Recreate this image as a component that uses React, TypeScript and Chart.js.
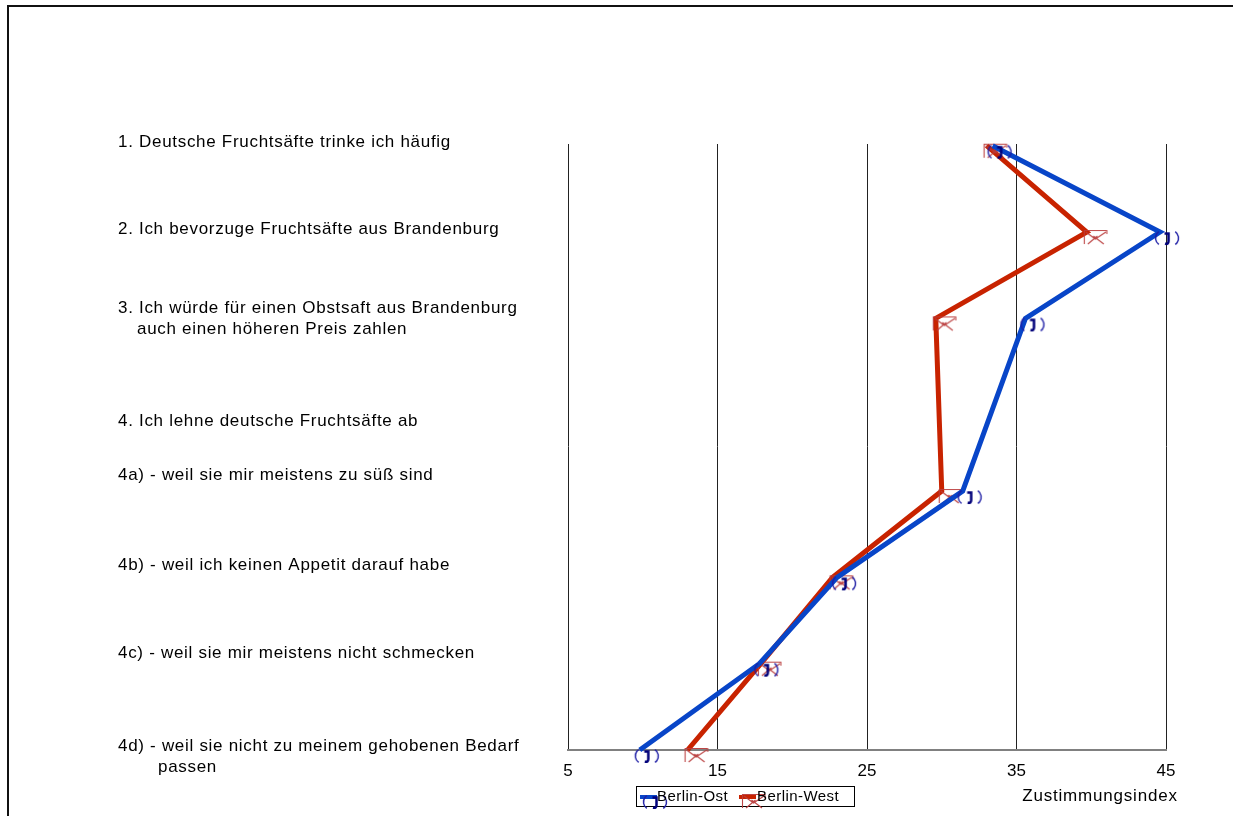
import React, { useEffect, useRef } from "react";
import { Chart, registerables } from "chart.js";

Chart.register(...registerables);

// ---- data ----
const categories: string[][] = [
  ["1. Deutsche Fruchtsäfte trinke ich häufig"],
  ["2. Ich bevorzuge Fruchtsäfte aus Brandenburg"],
  ["3. Ich würde für einen Obstsaft aus Brandenburg", "auch einen höheren Preis zahlen"],
  ["4. Ich lehne deutsche Fruchtsäfte ab"],
  ["4a) - weil sie mir meistens zu süß sind"],
  ["4b) - weil ich keinen Appetit darauf habe"],
  ["4c) - weil sie mir meistens nicht schmecken"],
  ["4d) - weil sie nicht zu meinem gehobenen Bedarf", "passen"],
];
const berlinOst: (number | null)[] = [33.4, 44.6, 35.6, null, 31.4, 23.0, 17.8, 9.8];
const berlinWest: (number | null)[] = [33.0, 39.7, 29.6, null, 30.0, 22.7, 17.9, 13.0];
const seriesNames = ["Berlin-Ost", "Berlin-West"];
const xTicks = [5, 15, 25, 35, 45];
const axisTitle = "Zustimmungsindex";

// ---- layout / style (not data) ----
const FONT = '"Liberation Sans", Arial, Helvetica, sans-serif';
const BLUE = "#0845C8";
const RED = "#C82300";
const labelOffsets = [-3, -3, -10, 17, -16, -12, -10, -4];
const contIndent = [0, 0, 19, 0, 0, 0, 0, 40];

function makeBlueMarker(): HTMLCanvasElement {
  const c = document.createElement("canvas");
  c.width = 60;
  c.height = 60;
  const g = c.getContext("2d")!;
  const vx = 30, vy = 30;
  g.strokeStyle = "rgba(30,30,165,0.95)";
  g.lineWidth = 1.5;
  g.beginPath();
  g.arc(vx + 3.5, vy + 6, 8, Math.PI * 0.7, Math.PI * 1.3);
  g.stroke();
  g.beginPath();
  g.arc(vx + 10.5, vy + 6, 8, -Math.PI * 0.3, Math.PI * 0.3);
  g.stroke();
  g.strokeStyle = "#00007A";
  g.lineWidth = 2.5;
  g.beginPath();
  g.moveTo(vx + 4.5, vy + 1.5);
  g.lineTo(vx + 8.5, vy + 1.5);
  g.lineTo(vx + 8.5, vy + 9);
  g.quadraticCurveTo(vx + 8.5, vy + 12.5, vx + 5, vy + 11.5);
  g.stroke();
  return c;
}

function makeRedMarker(): HTMLCanvasElement {
  const c = document.createElement("canvas");
  c.width = 60;
  c.height = 60;
  const g = c.getContext("2d")!;
  const vx = 30, vy = 30;
  const L = vx - 3, R = vx + 20, T = vy - 2, B = vy + 12;
  const M = (L + R) / 2;
  g.strokeStyle = "rgba(185,60,60,0.95)";
  g.lineWidth = 1.1;
  g.beginPath();
  g.moveTo(L + 0.5, B);
  g.lineTo(L + 0.5, T + 0.5);
  g.lineTo(R, T + 0.5);
  g.lineTo(R, T + 4);
  g.moveTo(L + 2, T + 2);
  g.lineTo(M, T + 9);
  g.lineTo(R - 1, T + 2);
  g.moveTo(L + 4, B);
  g.lineTo(M + 2, T + 6);
  g.moveTo(R - 3, B);
  g.lineTo(M - 2, T + 6);
  g.stroke();
  return c;
}

export default function App() {
  const ref = useRef<HTMLCanvasElement | null>(null);

  useEffect(() => {
    if (!ref.current) return;
    const blueMarker = makeBlueMarker();
    const redMarker = makeRedMarker();

    const toPoints = (arr: (number | null)[]) =>
      arr
        .map((v, i) => (v == null ? null : { x: v, y: i }))
        .filter((p) => p !== null) as { x: number; y: number }[];

    const textPlugin = {
      id: "textPlugin",
      afterDraw(chart: any) {
        const ctx = chart.ctx as CanvasRenderingContext2D;
        const yS = chart.scales.y;
        ctx.save();
        ctx.font = `17px ${FONT}`;
        (ctx as any).letterSpacing = "0.7px";
        ctx.fillStyle = "#000";
        ctx.textBaseline = "middle";
        ctx.textAlign = "left";
        categories.forEach((lines, i) => {
          const base = yS.getPixelForValue(i) + labelOffsets[i];
          lines.forEach((t, j) => {
            ctx.fillText(t, 118 + (j ? contIndent[i] : 0), base + j * 21);
          });
        });
        ctx.font = `17px ${FONT}`;
        (ctx as any).letterSpacing = "0.8px";
        ctx.textAlign = "center";
        ctx.fillText(axisTitle, 1100, 796);

        (ctx as any).letterSpacing = "0.45px";
        ctx.strokeStyle = "#000";
        ctx.lineWidth = 1;
        ctx.strokeRect(636.5, 786.5, 218, 20);
        const items = [
          { name: seriesNames[0], color: BLUE, marker: blueMarker, x0: 640, x1: 657, mx: 648, tx: 657 },
          { name: seriesNames[1], color: RED, marker: redMarker, x0: 739, x1: 756, mx: 745, tx: 757 },
        ];
        ctx.font = `15px ${FONT}`;
        ctx.textAlign = "left";
        items.forEach((it) => {
          ctx.strokeStyle = it.color;
          ctx.lineWidth = 4;
          ctx.beginPath();
          ctx.moveTo(it.x0, 797);
          ctx.lineTo(it.x1, 797);
          ctx.stroke();
          ctx.drawImage(it.marker, it.mx - 30, 796 - 30);
          ctx.fillStyle = "#000";
          ctx.fillText(it.name, it.tx, 797);
        });
        ctx.restore();
      },
    };

    const chart = new Chart(ref.current, {
      type: "scatter",
      data: {
        datasets: [
          {
            label: seriesNames[0],
            data: toPoints(berlinOst),
            borderColor: BLUE,
            backgroundColor: BLUE,
            borderWidth: 5,
            showLine: true,
            pointStyle: blueMarker as any,
            pointRadius: 5,
            pointHoverRadius: 5,
            borderJoinStyle: "miter",
            clip: false as any,
          },
          {
            label: seriesNames[1],
            data: toPoints(berlinWest),
            borderColor: RED,
            backgroundColor: RED,
            borderWidth: 5,
            showLine: true,
            pointStyle: redMarker as any,
            pointRadius: 5,
            pointHoverRadius: 5,
            borderJoinStyle: "miter",
            clip: false as any,
          },
        ],
      },
      options: {
        responsive: false,
        animation: false,
        devicePixelRatio: 1,
        events: [],
        layout: { padding: { left: 568, right: 67, top: 144, bottom: 0 } },
        plugins: {
          legend: { display: false },
          tooltip: { enabled: false },
        },
        scales: {
          x: {
            type: "linear",
            min: 5,
            max: 45,
            afterBuildTicks: (s: any) => {
              s.ticks = xTicks.map((v) => ({ value: v }));
            },
            afterFit: (s: any) => {
              s.height = 66;
            },
            grid: { color: "#222222", lineWidth: 1, drawTicks: false },
            border: { display: true, color: "#808080", width: 2 },
            ticks: {
              color: "#000",
              font: { family: FONT, size: 17 },
              padding: 11,
              maxRotation: 0,
              autoSkip: false,
            },
          },
          y: {
            type: "linear",
            display: false,
            reverse: true,
            min: -0.02,
            max: 7,
          },
        },
      },
      plugins: [textPlugin],
    });
    return () => chart.destroy();
  }, []);

  return (
    <div
      style={{
        position: "fixed",
        left: 0,
        top: 0,
        width: 1233,
        height: 816,
        overflow: "hidden",
        background: "#fff",
      }}
    >
      <div
        style={{
          position: "absolute",
          left: 7,
          top: 5,
          width: 1300,
          height: 900,
          border: "2px solid #111",
        }}
      />
      <canvas
        ref={ref}
        width={1233}
        height={816}
        style={{ position: "absolute", left: 0, top: 0 }}
      />
    </div>
  );
}
